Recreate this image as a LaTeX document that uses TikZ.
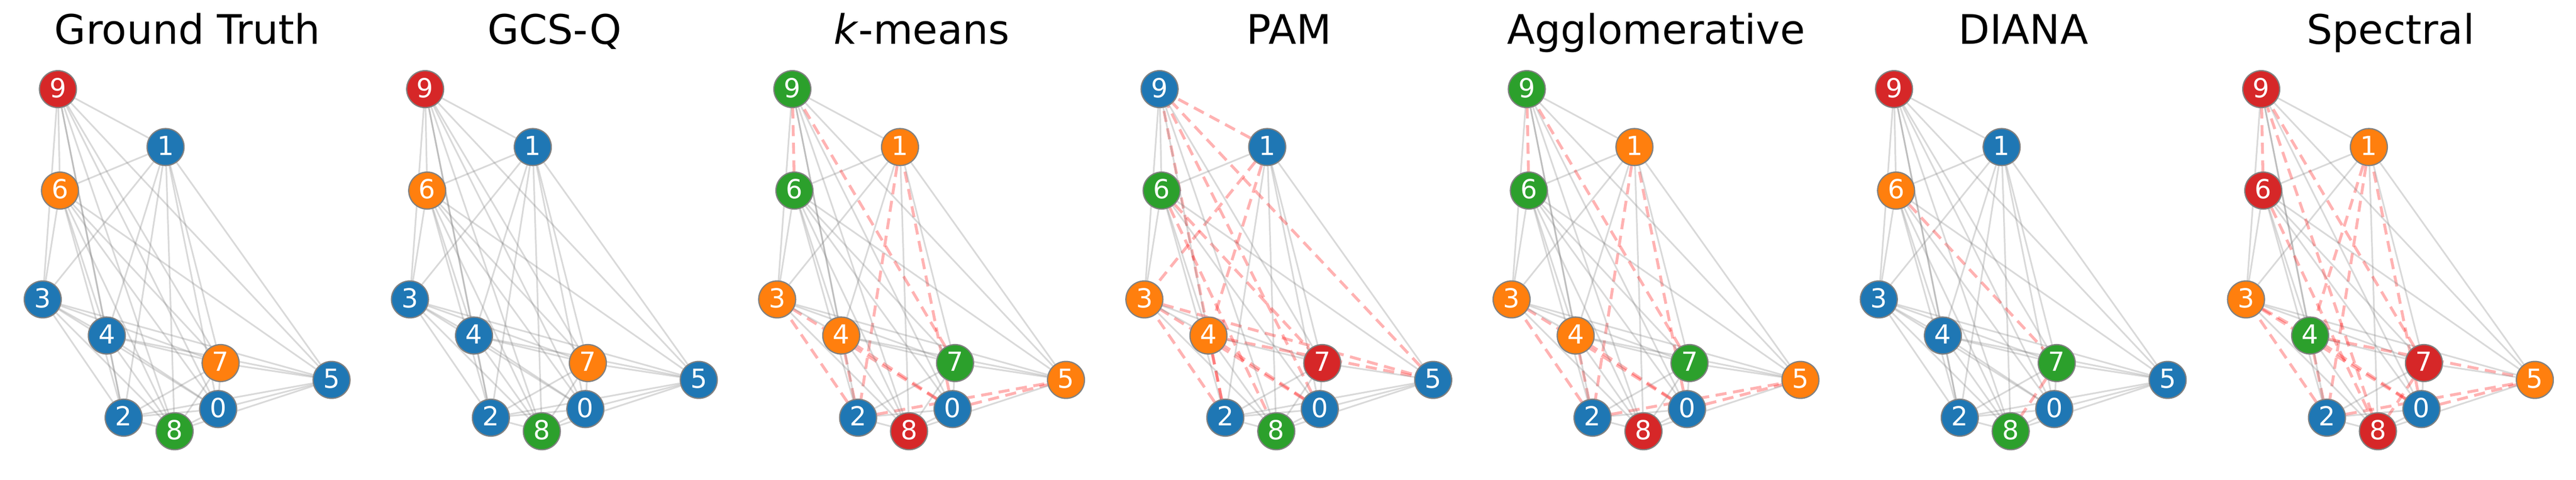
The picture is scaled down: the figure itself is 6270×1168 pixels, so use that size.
\documentclass[tikz,border=0pt]{standalone}
\usepackage{fontspec}
\setmainfont{DejaVu Sans}
\usepackage{xcolor}

\definecolor{clu0}{HTML}{1F77B4}
\definecolor{clu1}{HTML}{FF7F0E}
\definecolor{clu2}{HTML}{2CA02C}
\definecolor{clu3}{HTML}{D62728}

\pgfdeclarelayer{edges}
\pgfsetlayers{edges,main}

\tikzset{
  vertex/.style={circle, draw=gray, line width=3pt, minimum size=90pt, inner sep=0pt,
    text=white, text height=47pt, text depth=7pt, font=\fontsize{64}{64}\selectfont},
  link/.style={draw=gray, draw opacity=0.3, line width=4pt},
  wrong/.style={draw=red, draw opacity=0.3, line width=7pt, dash pattern=on 27pt off 16pt},
  heading/.style={anchor=base, font=\fontsize{99}{99}\selectfont}
}

% cluster of each node 0..9 (0 blue, 1 orange, 2 green, 3 red)
\def\labGT{{0,0,0,0,0,0,1,1,2,3}}
\def\labKM{{0,1,0,1,1,1,2,2,3,2}}
\def\labPAM{{0,0,0,1,1,0,2,3,2,0}}
\def\labDI{{0,0,0,0,0,0,1,2,2,3}}
\def\labSP{{0,1,0,1,2,1,3,3,3,3}}

\begin{document}
\begin{tikzpicture}[x=1pt, y=-1pt]
\useasboundingbox (0,0) rectangle (6270,1168);
\foreach \k/\ttl/\lab in {0/Ground Truth/\labGT, 1/GCS-Q/\labGT, 2/\textit{k}-means/\labKM, 3/PAM/\labPAM, 4/Agglomerative/\labKM, 5/DIANA/\labDI, 6/Spectral/\labSP}{
  \begin{scope}[shift={(\k*893.8,0)}]
    \node[heading] (t\k) at (456,107) {\ttl};
    % nodes
    \foreach \i/\px/\py in {0/531/996, 1/403/358, 2/301/1017, 3/104/729, 4/260/817, 5/807/925, 6/146/464, 7/537/884, 8/425/1050, 9/141/217}{
      \pgfmathtruncatemacro\c{\lab[\i]}
      \node[vertex, fill=clu\c] (v\k-\i) at (\px,\py) {\i};
    }
    % edges, red dashed where the pair disagrees with the ground truth
    \begin{pgfonlayer}{edges}
    \foreach \i in {0,...,8}{
      \pgfmathtruncatemacro\nxt{\i+1}
      \foreach \j in {\nxt,...,9}{
        \pgfmathtruncatemacro\same{\labGT[\i]==\labGT[\j]}
        \pgfmathtruncatemacro\samep{\lab[\i]==\lab[\j]}
        \ifnum\same=\samep
          \draw[link] (v\k-\i) -- (v\k-\j);
        \else
          \draw[wrong] (v\k-\i) -- (v\k-\j);
        \fi
      }
    }
    \end{pgfonlayer}
  \end{scope}
}
\end{tikzpicture}
\end{document}
